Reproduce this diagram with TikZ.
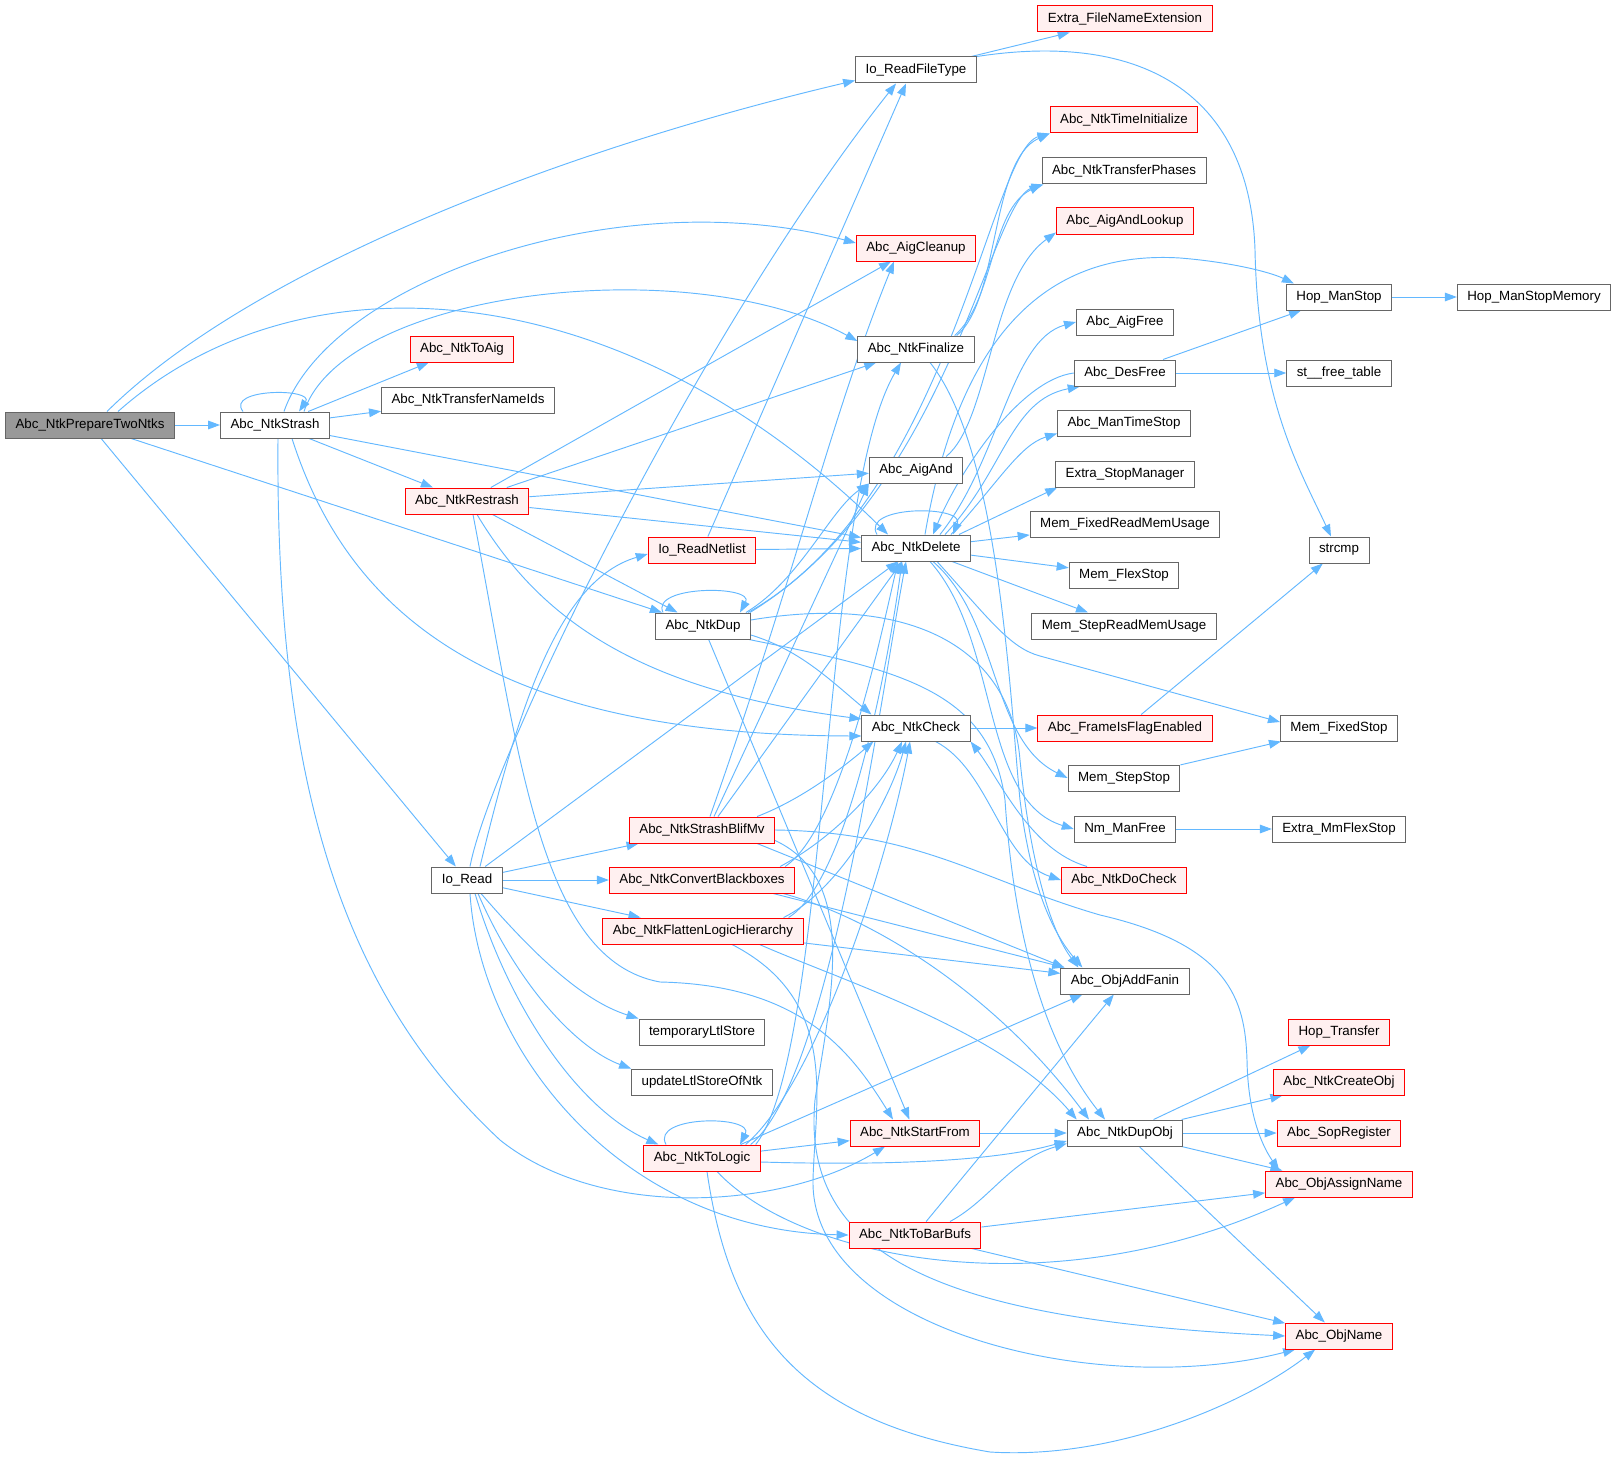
\documentclass[tikz,border=0pt]{standalone}
\usepackage{fontspec}
\setmainfont{Liberation Sans}
\usetikzlibrary{arrows.meta,calc,backgrounds}
\definecolor{edgeblue}{HTML}{63B8FF}
\definecolor{boxgray}{HTML}{666666}
\definecolor{mainfill}{HTML}{999999}
\definecolor{redfill}{HTML}{FFF0F0}
\tikzset{
  fn/.style={draw=boxgray, fill=white, line width=0.75pt, inner xsep=7.5pt, inner ysep=0pt,
    minimum height=19.5pt, font=\fontsize{10}{12}\selectfont},
  fnred/.style={fn, draw=red, fill=redfill},
  fnmain/.style={fn, fill=mainfill},
  call/.style={draw=edgeblue, line width=0.7pt, -{Triangle[length=9pt,width=6.5pt]}}
}
\begin{document}
\begin{tikzpicture}[x=0.75pt,y=-0.75pt]
        \useasboundingbox (0,0) rectangle (1617,1459);
        %nodes, first columns
        \node[fnmain] (prep) at (90,425) {Abc\_NtkPrepareTwoNtks};
        \node[fn] (strash) at (275,425) {Abc\_NtkStrash};
        \node[fnred] (toaig) at (462,349) {Abc\_NtkToAig};
        \node[fn] (transferids) at (468,400) {Abc\_NtkTransferNameIds};
        \node[fnred] (restrash) at (467,501) {Abc\_NtkRestrash};
        \node[fn] (ioread) at (467,880) {Io\_Read};
        \node[fnred] (readnetlist) at (702,550) {Io\_ReadNetlist};
        \node[fn] (dup) at (703,626) {Abc\_NtkDup};
        \node[fnred] (blifmv) at (702,830) {Abc\_NtkStrashBlifMv};
        \node[fnred] (convbb) at (702,880) {Abc\_NtkConvertBlackboxes};
        \node[fnred] (flatten) at (703,931) {Abc\_NtkFlattenLogicHierarchy};
        \node[fn] (tmpltl) at (702,1032) {temporaryLtlStore};
        \node[fn] (updltl) at (702,1082) {updateLtlStoreOfNtk};
        \node[fnred] (tologic) at (702,1158) {Abc\_NtkToLogic};
        %nodes, middle column
        \node[fn] (readfiletype) at (916,70) {Io\_ReadFileType};
        \node[fnred] (aigcleanup) at (916,248) {Abc\_AigCleanup};
        \node[fn] (finalize) at (916,349) {Abc\_NtkFinalize};
        \node[fn] (aigand) at (916,470) {Abc\_AigAnd};
        \node[fn] (delete) at (916,548) {Abc\_NtkDelete};
        \node[fn] (check) at (916,728) {Abc\_NtkCheck};
        \node[fnred] (startfrom) at (915,1133) {Abc\_NtkStartFrom};
        \node[fnred] (tobarbufs) at (915,1235) {Abc\_NtkToBarBufs};
        %nodes, callees
        \node[fnred] (fnext) at (1125,19) {Extra\_FileNameExtension};
        \node[fnred] (timeinit) at (1124,120) {Abc\_NtkTimeInitialize};
        \node[fn] (transphases) at (1124,171) {Abc\_NtkTransferPhases};
        \node[fnred] (aigandlookup) at (1125,221) {Abc\_AigAndLookup};
        \node[fn] (aigfree) at (1125,322) {Abc\_AigFree};
        \node[fn] (desfree) at (1125,373) {Abc\_DesFree};
        \node[fn] (mantimestop) at (1124,423) {Abc\_ManTimeStop};
        \node[fn] (extrastop) at (1125,474) {Extra\_StopManager};
        \node[fn] (memfixedread) at (1125,524) {Mem\_FixedReadMemUsage};
        \node[fn] (memflexstop) at (1124,575) {Mem\_FlexStop};
        \node[fn] (memstepread) at (1124,626) {Mem\_StepReadMemUsage};
        \node[fnred] (frameflag) at (1125,728) {Abc\_FrameIsFlagEnabled};
        \node[fn] (memstepstop) at (1124,778) {Mem\_StepStop};
        \node[fn] (nmmanfree) at (1125,829) {Nm\_ManFree};
        \node[fnred] (docheck) at (1124,880) {Abc\_NtkDoCheck};
        \node[fn] (addfanin) at (1125,981) {Abc\_ObjAddFanin};
        \node[fn] (dupobj) at (1125,1133) {Abc\_NtkDupObj};
        \node[fn] (hopmanstop) at (1339,297) {Hop\_ManStop};
        \node[fn] (hopstopmem) at (1534,297) {Hop\_ManStopMemory};
        \node[fn] (stfree) at (1339,373) {st\_\_free\_table};
        \node[fn] (strcmp) at (1339,550) {strcmp};
        \node[fn] (memfixedstop) at (1339,728) {Mem\_FixedStop};
        \node[fn] (mmflexstop) at (1339,829) {Extra\_MmFlexStop};
        \node[fnred] (hoptransfer) at (1339,1032) {Hop\_Transfer};
        \node[fnred] (createobj) at (1339,1082) {Abc\_NtkCreateObj};
        \node[fnred] (sopreg) at (1339,1133) {Abc\_SopRegister};
        \node[fnred] (assignname) at (1339,1184) {Abc\_ObjAssignName};
        \node[fnred] (objname) at (1339,1336) {Abc\_ObjName};

        \begin{scope}[on background layer]
        \fill[white](0,0) rectangle (1617,1459);
        %calls of Abc_NtkPrepareTwoNtks
        \draw[call](prep)--(strash);
        \draw[call]($(prep.north)+(17,0)$) .. controls (250,270) and (560,150) .. ($(readfiletype.south west)+(0,-3)$);
        \draw[call]($(prep.north)+(28,0)$) .. controls (300,250) and (620,270) .. ($(delete.north)+(-28,0)$);
        \draw[call](prep)--(dup);
        \draw[call](prep)--(ioread);
        %calls of Abc_NtkStrash
        \draw[call]($(strash.north)+(-32,0)$) .. controls (225,388) and (315,388) .. ($(strash.north)+(24,0)$);
        \draw[call]($(strash.north)+(9,0)$) .. controls (330,280) and (620,180) .. ($(aigcleanup.west)+(0,-5)$);
        \draw[call]($(strash.north)+(29,0)$) .. controls (345,290) and (690,250) .. ($(finalize.west)+(0,-8)$);
        \draw[call](strash)--(toaig);
        \draw[call](strash)--(transferids);
        \draw[call](strash)--(restrash);
        \draw[call](strash)--(delete);
        \draw[call]($(strash.south)+(17,0)$) .. controls (350,620) and (500,735) .. ($(check.west)+(0,8)$);
        \draw[call]($(strash.south)+(3,0)$) .. controls (275,800) and (350,1000) .. (500,1140) .. controls (600,1220) and (780,1210) .. ($(startfrom.south)+(-30,0)$);
        %calls of Abc_NtkRestrash
        \draw[call](restrash)--($(aigcleanup.south)+(-25,0)$);
        \draw[call](restrash)--(finalize);
        \draw[call](restrash)--(aigand);
        \draw[call](restrash)--(delete);
        \draw[call](restrash)--(dup);
        \draw[call]($(restrash.south)+(10,0)$) .. controls (540,620) and (640,690) .. ($(check.west)+(0,-9)$);
        \draw[call]($(restrash.south)+(6,0)$) .. controls (520,760) and (540,960) .. (660,982) .. controls (800,985) and (850,1050) .. ($(startfrom.north)+(-22,0)$);
        %calls of Io_Read
        \draw[call]($(ioread.north)+(3,0)$) .. controls (490,760) and (700,330) .. ($(readfiletype.south)+(-20,0)$);
        \draw[call]($(ioread.north)+(13,0)$) .. controls (520,700) and (560,580) .. ($(readnetlist.west)+(0,4)$);
        \draw[call](ioread)--($(delete.south)+(-18,0)$);
        \draw[call](ioread)--(blifmv);
        \draw[call](ioread)--(convbb);
        \draw[call](ioread)--(flatten);
        \draw[call]($(ioread.south)+(14,0)$) .. controls (530,950) and (580,1000) .. (tmpltl.north west);
        \draw[call]($(ioread.south)+(11,0)$) .. controls (520,990) and (580,1050) .. (updltl.north west);
        \draw[call]($(ioread.south)+(8,0)$) .. controls (510,1010) and (580,1110) .. ($(tologic.north west)+(15,0)$);
        \draw[call]($(ioread.south)+(3,0)$) .. controls (480,1050) and (620,1230) .. (tobarbufs.west);
        %calls of Io_ReadNetlist
        \draw[call](readnetlist)--($(readfiletype.south)+(-10,0)$);
        \draw[call](readnetlist)--(delete);
        %calls of Abc_NtkDup
        \draw[call]($(dup.north)+(-40,0)$) .. controls (650,585) and (755,585) .. ($(dup.north)+(37,0)$);
        \draw[call]($(dup.north east)+(-5,0)$) .. controls (800,580) and (830,510) .. (aigand.south west);
        \draw[call]($(dup.north east)+(-3,0)$) .. controls (950,500) and (990,150) .. (timeinit.south west);
        \draw[call]($(dup.north east)+(-1,0)$) .. controls (950,490) and (990,200) .. ($(transphases.south west)+(2,0)$);
        \draw[call]($(dup.east)+(0,-6)$) .. controls (900,595) and (1010,640) .. (1020,760) .. controls (1030,860) and (1050,930) .. ($(addfanin.north west)+(18,0)$);
        \draw[call]($(dup.east)+(0,9)$) .. controls (800,650) and (830,680) .. ($(check.north west)+(10,0)$);
        \draw[call]($(dup.south east)+(-2,0)$) .. controls (900,670) and (990,690) .. (1005,800) .. controls (1015,950) and (1050,1050) .. ($(dupobj.north)+(-20,0)$);
        \draw[call](dup)--(startfrom);
        %calls of Abc_NtkStrashBlifMv
        \draw[call]($(blifmv.north)+(8,0)$) .. controls (800,560) and (830,420) .. ($(aigcleanup.south)+(-22,0)$);
        \draw[call]($(blifmv.north)+(12,0)$)--(aigand.south west);
        \draw[call]($(blifmv.north)+(16,0)$)--($(delete.south)+(-14,0)$);
        \draw[call]($(blifmv.north east)+(-18,0)$) .. controls (800,800) and (840,770) .. ($(check.south west)+(12,0)$);
        \draw[call]($(blifmv.south east)+(-18,0)$)--($(addfanin.north west)+(4,0)$);
        \draw[call](blifmv.east) .. controls (920,832) and (980,880) .. (1100,915) .. controls (1230,945) and (1245,1000) .. (1247,1060) .. controls (1248,1120) and (1265,1150) .. ($(assignname.north west)+(14,0)$);
        \draw[call]($(blifmv.south east)+(0,-3)$) .. controls (860,880) and (830,1000) .. (815,1100) .. controls (800,1260) and (950,1320) .. (objname.west);
        %calls of Abc_NtkConvertBlackboxes
        \draw[call]($(convbb.north east)+(-15,0)$) .. controls (830,840) and (880,790) .. ($(check.south)+(-14,0)$);
        \draw[call]($(convbb.north east)+(-10,0)$) .. controls (840,830) and (880,640) .. ($(delete.south)+(-18,0)$);
        \draw[call]($(convbb.south east)+(-22,0)$)--($(addfanin.north west)+(4,0)$);
        \draw[call]($(convbb.south east)+(-12,0)$) .. controls (880,920) and (1000,1000) .. ($(dupobj.north)+(-36,0)$);
        %calls of Abc_NtkFlattenLogicHierarchy
        \draw[call]($(flatten.north east)+(-20,0)$) .. controls (840,890) and (890,800) .. ($(check.south)+(-10,0)$);
        \draw[call]($(flatten.north east)+(-15,0)$) .. controls (850,880) and (890,650) .. ($(delete.south)+(-14,0)$);
        \draw[call](flatten)--(addfanin);
        \draw[call]($(flatten.south east)+(-44,0)$) .. controls (840,980) and (1000,1030) .. ($(dupobj.north west)+(10,0)$);
        \draw[call]($(flatten.south)+(29,0)$) .. controls (840,1000) and (815,1100) .. (813,1180) .. controls (810,1330) and (1100,1400) .. ($(objname.south west)+(10,0)$);
        %calls of Abc_NtkToLogic
        \draw[call]($(tologic.north)+(-36,0)$) .. controls (650,1115) and (755,1115) .. ($(tologic.north)+(38,0)$);
        \draw[call](tologic)--(startfrom);
        \draw[call]($(tologic.east)+(0,4)$) .. controls (900,1166) and (1000,1160) .. ($(dupobj.west)+(0,8)$);
        \draw[call]($(tologic.north east)+(-20,0)$)--($(addfanin.south west)+(22,0)$);
        \draw[call]($(tologic.south)+(15,0)$) .. controls (800,1260) and (1050,1310) .. ($(assignname.south west)+(30,0)$);
        \draw[call]($(tologic.south)+(5,0)$) .. controls (730,1330) and (800,1420) .. (990,1452) .. controls (1120,1460) and (1250,1400) .. ($(objname.south west)+(30,0)$);
        \draw[call]($(tologic.north east)+(-15,0)$) .. controls (820,1080) and (890,850) .. ($(check.south)+(-6,0)$);
        \draw[call]($(tologic.north east)+(-10,0)$) .. controls (830,1080) and (880,700) .. ($(delete.south)+(-10,0)$);
        \draw[call]($(tologic.north east)+(-5,0)$) .. controls (830,1050) and (820,500) .. ($(finalize.south)+(-15,0)$);
        %calls of Abc_NtkToBarBufs and Abc_NtkStartFrom
        \draw[call](tobarbufs)--(addfanin);
        \draw[call]($(tobarbufs.north)+(35,0)$) .. controls (990,1200) and (1010,1160) .. ($(dupobj.south west)+(0,-3)$);
        \draw[call](tobarbufs)--(assignname);
        \draw[call](tobarbufs)--(objname);
        \draw[call](startfrom)--(dupobj);
        %calls of Abc_NtkDupObj
        \draw[call](dupobj)--(hoptransfer);
        \draw[call](dupobj)--(createobj);
        \draw[call](dupobj)--(sopreg);
        \draw[call](dupobj)--(assignname);
        \draw[call](dupobj)--(objname);
        %calls of Abc_NtkFinalize and Abc_AigAnd
        \draw[call]($(finalize.north east)+(-18,0)$) .. controls (1000,300) and (990,160) .. (timeinit.south west);
        \draw[call]($(finalize.north east)+(-20,0)$) .. controls (995,300) and (990,210) .. (transphases.south west);
        \draw[call]($(finalize.south)+(14,0)$) .. controls (1000,450) and (1010,700) .. (1020,800) .. controls (1030,880) and (1050,930) .. ($(addfanin.north west)+(22,0)$);
        \draw[call]($(aigand.north east)+(-17,0)$) .. controls (990,420) and (990,280) .. ($(aigandlookup.south west)+(0,-2)$);
        %calls of Abc_NtkDelete
        \draw[call]($(delete.north)+(-39,0)$) .. controls (860,505) and (965,505) .. ($(delete.north)+(37,0)$);
        \draw[call]($(delete.north east)+(-31,0)$) .. controls (1000,460) and (1010,340) .. (aigfree.west);
        \draw[call]($(delete.north east)+(-26,0)$) .. controls (1005,470) and (1010,400) .. ($(desfree.south west)+(6,0)$);
        \draw[call]($(delete.north east)+(-20,0)$) .. controls (1000,480) and (1020,445) .. ($(mantimestop.south west)+(0,-3)$);
        \draw[call]($(delete.north east)+(-12,0)$)--($(extrastop.south west)+(2,0)$);
        \draw[call](delete)--(memfixedread);
        \draw[call](delete)--(memflexstop);
        \draw[call](delete)--(memstepread);
        \draw[call]($(delete.south)+(21,0)$) .. controls (990,620) and (1010,648) .. (1040,656)--($(memfixedstop.west)+(0,-6)$);
        \draw[call]($(delete.south)+(17,0)$) .. controls (1000,620) and (990,740) .. (memstepstop.west);
        \draw[call]($(delete.south)+(14,0)$) .. controls (1000,640) and (980,800) .. (nmmanfree.west);
        \draw[call]($(delete.north)+(9,0)$) .. controls (960,330) and (1050,250) .. (1180,258) .. controls (1230,262) and (1270,272) .. ($(hopmanstop.north west)+(8,0)$);
        %calls of Abc_DesFree
        \draw[call](desfree.west) .. controls (1020,380) and (960,470) .. ($(delete.north)+(17,0)$);
        \draw[call](desfree)--(hopmanstop);
        \draw[call](desfree)--(stfree);
        %remaining calls
        \draw[call](hopmanstop)--(hopstopmem);
        \draw[call](check)--(frameflag);
        \draw[call]($(check.south east)+(-35,0)$) .. controls (990,770) and (1000,860) .. (docheck.west);
        \draw[call]($(docheck.north)+(-37,0)$) .. controls (1030,850) and (1000,780) .. (check.south east);
        \draw[call](frameflag)--(strcmp);
        \draw[call](memstepstop)--(memfixedstop);
        \draw[call](nmmanfree)--(mmflexstop);
        \draw[call](readfiletype)--(fnext);
        \draw[call](readfiletype.north east) .. controls (1150,30) and (1250,100) .. (1255,250) .. controls (1258,400) and (1300,470) .. ($(strcmp.north)+(-8,0)$);
        \end{scope}
    \end{tikzpicture}
\end{document}
